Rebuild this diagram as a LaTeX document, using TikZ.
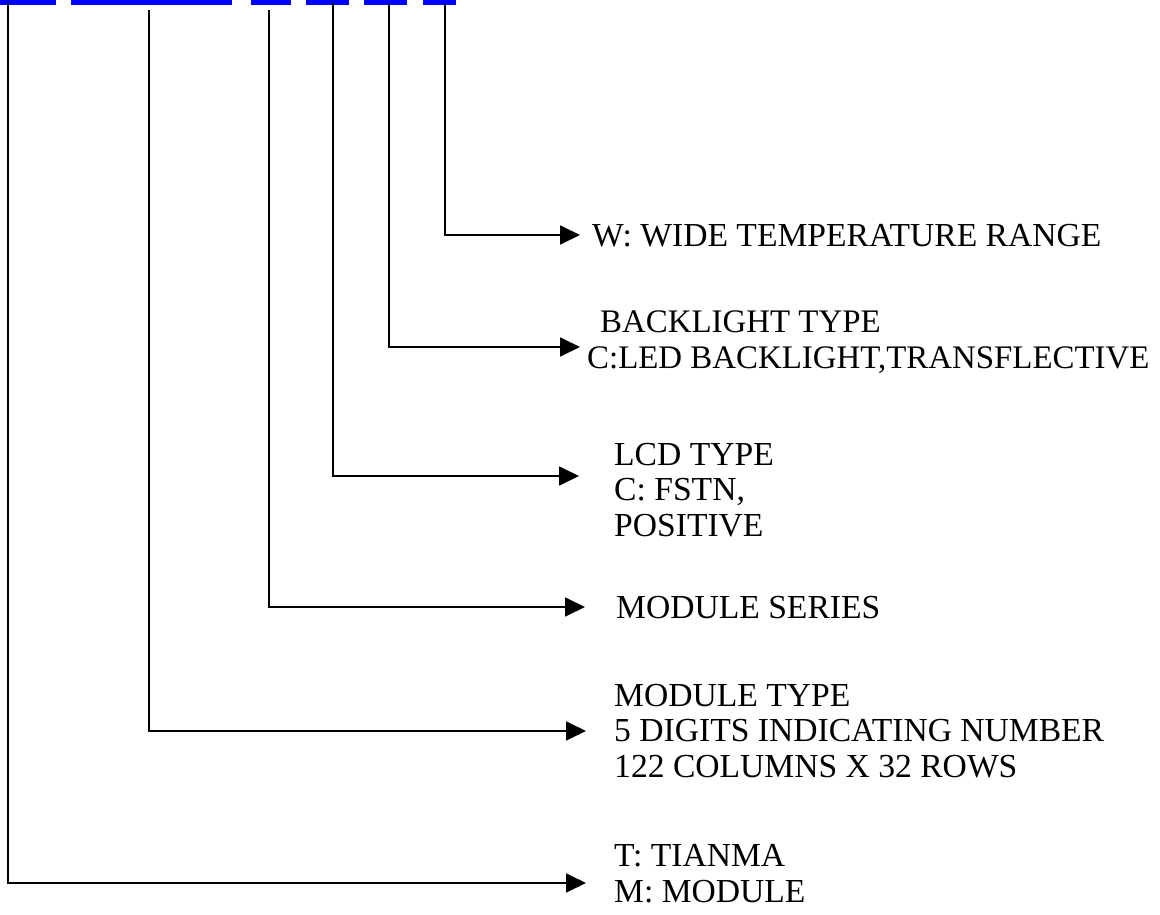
\documentclass[tikz,border=0pt]{standalone}
\usepackage{fontspec}
\setmainfont{Liberation Serif}
\usetikzlibrary{arrows.meta}

\tikzset{
	leader/.style={line width=1.8pt, -{Triangle[length=20pt,width=19pt]}},
	bar/.style={fill=blue},
	label/.style={anchor=base west, inner sep=0pt, align=left, font=\fontsize{33.6}{35.5}\selectfont}
}

\begin{document}
\begin{tikzpicture}[x=1pt,y=-1pt]
			\useasboundingbox (0,0) rectangle (1160,915);
			
			% code bars
			\fill [bar] (0,0) rectangle (56,5.5);
			\fill [bar] (71,0) rectangle (232,5.5);
			\fill [bar] (251,0) rectangle (291,5.5);
			\fill [bar] (306,0) rectangle (349,5.5);
			\fill [bar] (364,0) rectangle (407,5.5);
			\fill [bar] (423,0) rectangle (456,5.5);
			
			\coordinate (maker) at (8,3);
			\coordinate (type) at (149,10);
			\coordinate (series) at (269,10);
			\coordinate (lcd) at (333,3);
			\coordinate (light) at (389,4);
			\coordinate (temp) at (445,4);
			
			\coordinate (makertip) at (586,883);
			\coordinate (typetip) at (586,731);
			\coordinate (seriestip) at (585,607);
			\coordinate (lcdtip) at (579,476);
			\coordinate (lighttip) at (580,347);
			\coordinate (temptip) at (580,235);
			
			\draw [leader] (maker) |- (makertip);
			\draw [leader] (type) |- (typetip);
			\draw [leader] (series) |- (seriestip);
			\draw [leader] (lcd) |- (lcdtip);
			\draw [leader] (light) |- (lighttip);
			\draw [leader] (temp) |- (temptip);
			
			% base anchor sits on the last line
			\node [label] (templabel) at (592,246) {W: WIDE TEMPERATURE RANGE};
			\node [label, font=\fontsize{32.9}{35.5}\selectfont] (lightlabel) at (587,368) {\hspace*{13pt}BACKLIGHT TYPE\\C:LED BACKLIGHT,TRANSFLECTIVE};
			\node [label] (lcdlabel) at (614,536) {LCD TYPE\\C: FSTN,\\POSITIVE};
			\node [label] (serieslabel) at (616,618) {MODULE SERIES};
			\node [label] (typelabel) at (614,777) {MODULE TYPE\\5 DIGITS INDICATING NUMBER\\122 COLUMNS X 32 ROWS};
			\node [label] (makerlabel) at (614,902) {T: TIANMA\\M: MODULE};
		\end{tikzpicture}
\end{document}
